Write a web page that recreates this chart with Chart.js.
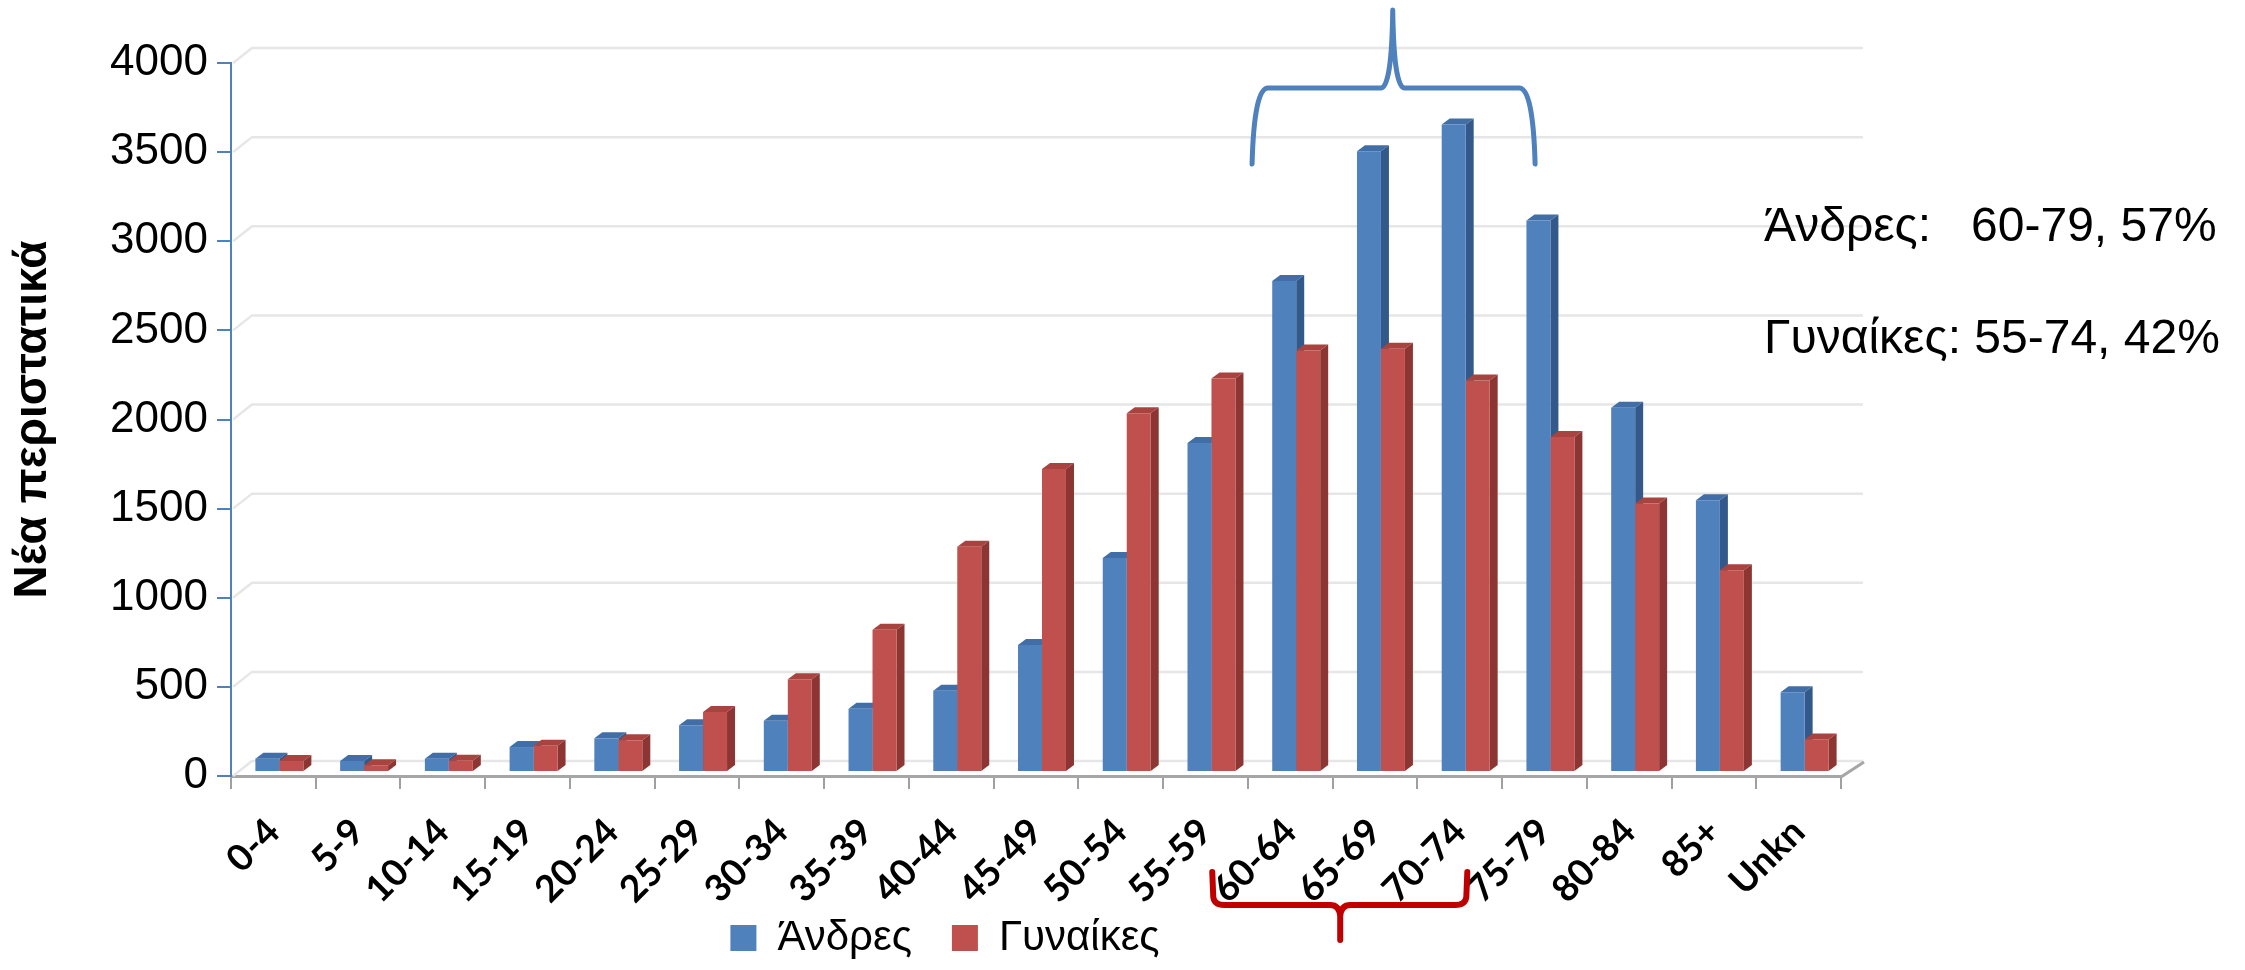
<!DOCTYPE html>
<html>
<head>
<meta charset="utf-8">
<title>Νέα περιστατικά ανά ηλικία</title>
<script src="https://cdn.jsdelivr.net/npm/chart.js@4.4.1/dist/chart.umd.min.js"></script>
<style>
  html, body { margin: 0; padding: 0; background: #ffffff; }
  #wrap { position: relative; width: 2245px; height: 970px; }
</style>
</head>
<body>
<div id="wrap"><canvas id="ageChart"></canvas></div>
<script>
// Age groups and new cases per sex
const ageGroups = ["0-4", "5-9", "10-14", "15-19", "20-24", "25-29", "30-34", "35-39", "40-44",
    "45-49", "50-54", "55-59", "60-64", "65-69", "70-74", "75-79", "80-84", "85+", "Unkn"];
const menCases = [75, 62, 75, 140, 189, 262, 288, 355, 456, 712, 1201, 1846, 2754, 3483, 3632, 3094, 2044, 1525, 447];
const womenCases = [62, 38, 63, 147, 178, 336, 521, 798, 1263, 1700, 2012, 2207, 2365, 2375, 2197, 1880, 1506, 1132, 183];
const yTicks = [0, 500, 1000, 1500, 2000, 2500, 3000, 3500, 4000];
const notes = ["Άνδρες:   60-79, 57%", "Γυναίκες: 55-74, 42%"];

const BLUE = "#4F81BD";
const RED = "#C0504D";
const faceColors = [
    { top: "#416EA6", side: "#33598A" },
    { top: "#A8433F", side: "#8C3532" },
];

// fake depth for the 3D look
const DX = 8, DY = 6;
const SHIFT_X = 6, SHIFT_Y = -4;

const wallPlugin = {
    id: "wall3d",
    afterLayout(chart) {
        // let the rotated age labels run past the axis box instead of being clipped
        chart.scales.x.bottom = chart.height;
    },
    beforeDatasetsDraw(chart) {
        const ctx = chart.ctx;
        const ys = chart.scales.y;
        const xs = chart.scales.x;
        // back wall gridlines
        ctx.save();
        ctx.strokeStyle = "#E6E6E6";
        ctx.lineWidth = 2.5;
        ys.ticks.forEach(t => {
            const y = ys.getPixelForValue(t.value);
            ctx.beginPath();
            ctx.moveTo(xs.left + 2, y);
            ctx.lineTo(xs.left + 21, y - 15);
            ctx.lineTo(xs.right + 22, y - 15);
            ctx.stroke();
        });
        // right edge of floor
        ctx.strokeStyle = "#A6A6A6";
        ctx.lineWidth = 3;
        ctx.beginPath();
        ctx.moveTo(xs.right, ys.bottom + 1);
        ctx.lineTo(xs.right + 23, ys.bottom - 14);
        ctx.stroke();
        ctx.restore();

        // bars sit a bit inside the depth
        ctx.save();
        ctx.translate(SHIFT_X, SHIFT_Y);
        chart.data.datasets.forEach((ds, di) => {
            const meta = chart.getDatasetMeta(di);
            meta.data.forEach(bar => {
                const p = bar.getProps(["x", "y", "base", "width"], true);
                const l = p.x - p.width / 2, r = p.x + p.width / 2;
                ctx.fillStyle = faceColors[di].top;
                ctx.beginPath();
                ctx.moveTo(l, p.y);
                ctx.lineTo(l + DX, p.y - DY);
                ctx.lineTo(r + DX, p.y - DY);
                ctx.lineTo(r, p.y);
                ctx.closePath();
                ctx.fill();
                ctx.fillStyle = faceColors[di].side;
                ctx.beginPath();
                ctx.moveTo(r, p.y);
                ctx.lineTo(r + DX, p.y - DY);
                ctx.lineTo(r + DX, p.base - DY);
                ctx.lineTo(r, p.base);
                ctx.closePath();
                ctx.fill();
            });
        });
    },
    afterDatasetsDraw(chart) {
        chart.ctx.restore();
    },
    afterDraw(chart) {
        const ctx = chart.ctx;
        const xs = chart.scales.x;
        const w = (xs.right - xs.left) / ageGroups.length;
        const at = f => xs.left + f * w;

        ctx.save();
        ctx.lineCap = "round";
        ctx.lineJoin = "round";

        // blue brace above 60-79
        let a = at(12.05), c = at(13.71), b = at(15.39);
        ctx.strokeStyle = BLUE;
        ctx.lineWidth = 5;
        ctx.beginPath();
        ctx.moveTo(a, 164);
        ctx.quadraticCurveTo(a + 2, 88, a + 16, 88);
        ctx.lineTo(c - 12, 88);
        ctx.quadraticCurveTo(c - 1, 88, c, 10);
        ctx.quadraticCurveTo(c + 1, 88, c + 12, 88);
        ctx.lineTo(b - 16, 88);
        ctx.quadraticCurveTo(b - 2, 88, b, 164);
        ctx.stroke();

        // red brace under 55-74
        a = at(11.58); c = at(13.09); b = at(14.59);
        ctx.strokeStyle = "#C00000";
        ctx.lineWidth = 6;
        ctx.beginPath();
        ctx.moveTo(a, 872);
        ctx.lineTo(a + 1, 897);
        ctx.quadraticCurveTo(a + 2, 905, a + 12, 905);
        ctx.lineTo(c - 10, 905);
        ctx.quadraticCurveTo(c - 1, 905, c, 916);
        ctx.lineTo(c, 940);
        ctx.moveTo(c, 916);
        ctx.quadraticCurveTo(c + 1, 905, c + 10, 905);
        ctx.lineTo(b - 12, 905);
        ctx.quadraticCurveTo(b - 2, 905, b - 1, 897);
        ctx.lineTo(b, 872);
        ctx.stroke();

        // side notes
        ctx.fillStyle = "#000000";
        ctx.font = '48px "Liberation Sans", Arial, sans-serif';
        ctx.textBaseline = "alphabetic";
        ctx.textAlign = "left";
        ctx.fillText(notes[0], xs.right - 77, 241);
        ctx.fillText(notes[1], xs.right - 77, 353);
        ctx.restore();
    }
};

document.addEventListener("DOMContentLoaded", function () {
    if (typeof Chart === "undefined") {
        console.error("Chart.js is not loaded");
        return;
    }
    Chart.defaults.font.family = '"Liberation Sans", Arial, sans-serif';
    Chart.defaults.color = "#000000";

    new Chart(document.getElementById("ageChart").getContext("2d"), {
        type: "bar",
        data: {
            labels: ageGroups,
            datasets: [
                {
                    label: "Άνδρες",
                    data: menCases,
                    backgroundColor: BLUE,
                    borderWidth: 0,
                    categoryPercentage: 0.566,
                    barPercentage: 1.0,
                },
                {
                    label: "Γυναίκες",
                    data: womenCases,
                    backgroundColor: RED,
                    borderWidth: 0,
                    categoryPercentage: 0.566,
                    barPercentage: 1.0,
                },
            ],
        },
        options: {
            responsive: true,
            maintainAspectRatio: false,
            animation: false,
            events: [],
            layout: { padding: { left: 49, right: 404, top: 63, bottom: 1 } },
            plugins: {
                tooltip: { enabled: false },
                legend: {
                    position: "bottom",
                    labels: {
                        boxWidth: 26,
                        boxHeight: 26,
                        padding: 40,
                        color: "#000000",
                        font: { size: 42 },
                    },
                },
            },
            scales: {
                x: {
                    offset: true,
                    grid: {
                        offset: true,
                        drawOnChartArea: false,
                        drawTicks: true,
                        tickLength: 13,
                        color: "#A0A0A0",
                        lineWidth: 2,
                    },
                    border: { display: true, color: "#A6A6A6", width: 3 },
                    ticks: {
                        autoSkip: false,
                        maxRotation: 45,
                        minRotation: 45,
                        padding: 21,
                        color: "#000000",
                        font: { family: "Lato, sans-serif", size: 37, weight: "bold" },
                    },
                    afterFit(scale) { scale.height = 101; },
                },
                y: {
                    min: 0,
                    max: 4000,
                    afterBuildTicks(scale) { scale.ticks = yTicks.map(v => ({ value: v })); },
                    grid: {
                        drawOnChartArea: false,
                        drawTicks: true,
                        tickLength: 14,
                        color: BLUE,
                        lineWidth: 2,
                    },
                    border: { display: true, color: BLUE, width: 2 },
                    ticks: {
                        padding: 9,
                        color: "#000000",
                        font: { size: 44 },
                        callback: v => String(v),
                    },
                    title: {
                        display: true,
                        text: "Νέα περιστατικά",
                        color: "#000000",
                        font: { size: 46, weight: "bold" },
                        padding: { top: -43, bottom: 0 },
                    },
                    afterFit(scale) { scale.width = 182; },
                },
            },
        },
        plugins: [wallPlugin],
    });
});
</script>
</body>
</html>
